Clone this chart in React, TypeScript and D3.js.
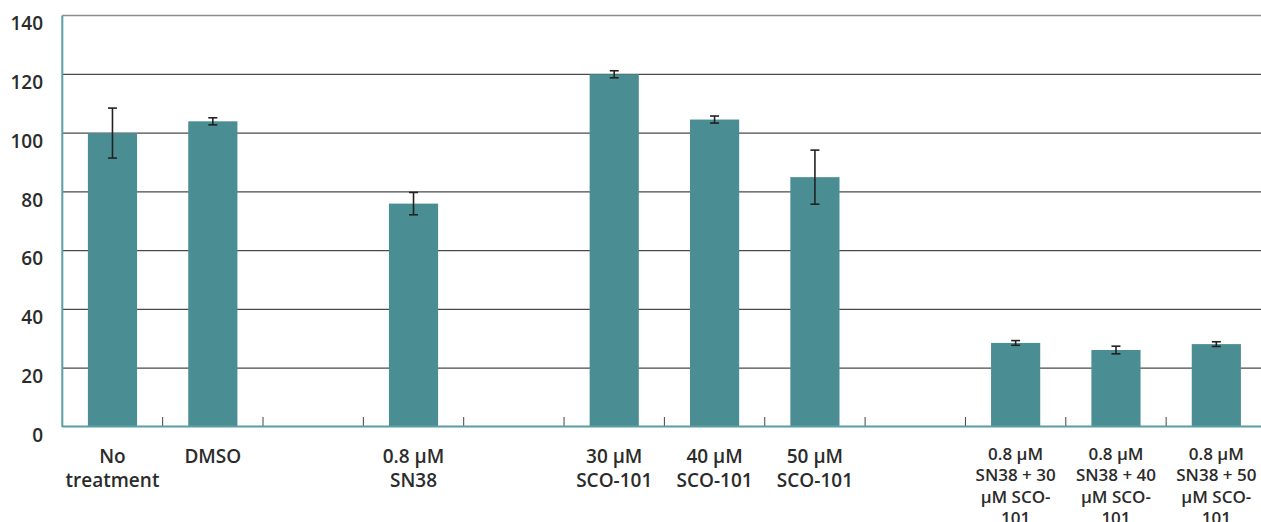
import React from "react";
import * as d3 from "d3";

const categories = [
  "No treatment", "DMSO", "", "0.8 µM SN38", "", "30 µM SCO-101", "40 µM SCO-101",
  "50 µM SCO-101", "", "0.8 µM SN38 + 30 µM SCO-101", "0.8 µM SN38 + 40 µM SCO-101",
  "0.8 µM SN38 + 50 µM SCO-101",
];
const labelLines = [
  ["No", "treatment"], ["DMSO"], [], ["0.8 µM", "SN38"], [], ["30 µM", "SCO-101"], ["40 µM", "SCO-101"],
  ["50 µM", "SCO-101"], [], ["0.8 µM", "SN38 + 30", "µM SCO-", "101"], ["0.8 µM", "SN38 + 40", "µM SCO-", "101"],
  ["0.8 µM", "SN38 + 50", "µM SCO-", "101"],
];
const values: (number | null)[] = [100, 104, null, 76, null, 120, 104.6, 85, null, 28.6, 26.2, 28.2];
const errors: (number | null)[] = [8.5, 1.2, null, 3.8, null, 1.2, 1.2, 9.2, null, 0.8, 1.3, 0.8];
const yTicks = [0, 20, 40, 60, 80, 100, 120, 140];

const W = 1261, H = 522;
const left = 62.3, right = 1266.5, top = 15.5, bottom = 427;

export default function App() {
  const x = d3.scaleBand<number>().domain(categories.map((_, i) => i)).range([left, right]).paddingInner(0.51).paddingOuter(0.255);
  const y = d3.scaleLinear().domain([0, 140]).range([bottom, top]);
  const step = x.step();
  const font = "'Open Sans', 'Noto Sans', sans-serif";
  return (
    <svg width={W} height={H} style={{ position: "absolute", left: 0, top: 0, background: "#fff" }}>
      {yTicks.filter(t => t > 0).map(t => (
        <line key={t} x1={left} x2={W} y1={y(t)} y2={y(t)} stroke={t === 140 ? "#8c8c8c" : "#4a4a4a"} strokeWidth={t === 140 ? 1.6 : 1.2} />
      ))}
      {yTicks.map(t => (
        <text key={"l" + t} x={43} y={y(t) + 8} dy="0.36em" textAnchor="end" fontFamily={font} fontWeight={600} fontSize={19} fill="#2b2b2b">{t}</text>
      ))}
      {categories.map((c, i) => {
        const v = values[i];
        if (v == null) return null;
        return <rect key={"b" + i} x={x(i)} y={y(v)} width={x.bandwidth()} height={y(0) - y(v)} fill="#4a8e93" />;
      })}
      {categories.map((c, i) => i > 0 ? (
        <line key={"t" + i} x1={left + i * step} x2={left + i * step} y1={bottom - 10} y2={bottom} stroke="#444" strokeWidth={1} />
      ) : null)}
      <line x1={left} x2={W} y1={bottom - 0.5} y2={bottom - 0.5} stroke="#5a9da2" strokeWidth={2} />
      <line x1={left} x2={left} y1={top} y2={bottom} stroke="#5a9da2" strokeWidth={2} />
      {categories.map((c, i) => {
        const v = values[i], e = errors[i];
        if (v == null || e == null) return null;
        const cx = (x(i) as number) + x.bandwidth() / 2;
        return (
          <g key={"e" + i} stroke="#222" strokeWidth={1.6}>
            <line x1={cx} x2={cx} y1={y(v + e)} y2={y(v - e)} />
            <line x1={cx - 4.5} x2={cx + 4.5} y1={y(v + e)} y2={y(v + e)} />
            <line x1={cx - 4.5} x2={cx + 4.5} y1={y(v - e)} y2={y(v - e)} />
          </g>
        );
      })}
      {labelLines.map((lines, i) => {
        const cx = (x(i) as number) + x.bandwidth() / 2;
        const small = lines.length > 2;
        const fs = small ? 17 : 19;
        const lh = small ? 21.3 : 23.7;
        const y0 = small ? 460 : 463;
        return (
          <text key={"x" + i} textAnchor="middle" fontFamily={font} fontWeight={600} fontSize={fs} fill="#2b2b2b">
            {lines.map((ln, k) => <tspan key={k} x={cx} y={y0 + k * lh}>{ln}</tspan>)}
          </text>
        );
      })}
    </svg>
  );
}
